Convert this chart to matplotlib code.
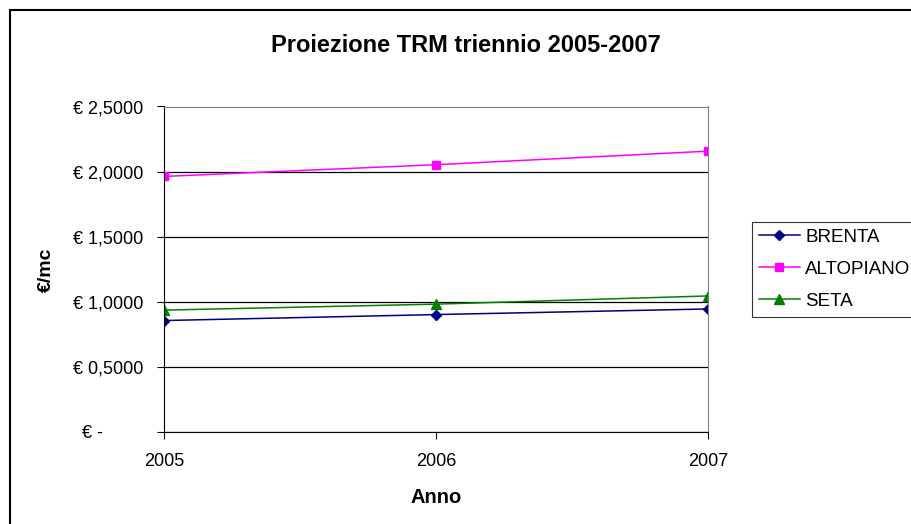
import matplotlib
matplotlib.use("Agg")
import matplotlib.pyplot as plt
from matplotlib.patches import Rectangle
from matplotlib.ticker import FuncFormatter

plt.rcParams['font.family'] = ['Liberation Sans', 'DejaVu Sans']

anni = ['2005', '2006', '2007']
brenta = [0.856, 0.902, 0.945]
altopiano = [1.963, 2.053, 2.157]
seta = [0.936, 0.982, 1.045]

W, H = 912, 524
fig = plt.figure(figsize=(W / 100, H / 100), dpi=100)
fig.patches.append(Rectangle((10 / W, -0.1), 1.2, 1 - 10 / H + 0.1, transform=fig.transFigure,
                             fill=False, edgecolor='black', linewidth=1.5))

ax = fig.add_axes([164 / W, 1 - 432 / H, (708 - 164) / W, (432 - 106.5) / H])

x = range(len(anni))
ax.plot(x, brenta, color='#000080', marker='D', markersize=5.5, linewidth=1.1, label='BRENTA')
ax.plot(x, altopiano, color='#FF00FF', marker='s', markersize=6, linewidth=1.1, label='ALTOPIANO')
ax.plot(x, seta, color='#008000', marker='^', markersize=7, linewidth=1.1, label='SETA')

ax.set_xlim(0, 2)
ax.set_ylim(0, 2.5)
ax.set_xticks(list(x))
ax.set_xticklabels(anni)
ax.set_yticks([0, 0.5, 1.0, 1.5, 2.0, 2.5])


def euro(v, pos):
    if v == 0:
        return '€ -        '
    return '€ ' + f'{v:.4f}'.replace('.', ',')


ax.yaxis.set_major_formatter(FuncFormatter(euro))
ax.yaxis.grid(True, color='black', linewidth=0.9)
ax.set_axisbelow(True)
for s in ['top', 'right']:
    ax.spines[s].set_color('#808080')
for s in ['left', 'bottom']:
    ax.spines[s].set_color('black')
ax.tick_params(axis='both', labelsize=13, length=5, color='black')
ax.tick_params(axis='y', pad=10)
ax.tick_params(axis='x', pad=10)

ax.set_ylabel('€/mc', fontsize=14, fontweight='bold', labelpad=13)
ax.set_xlabel('Anno', fontsize=14.5, fontweight='bold', labelpad=13)
fig.text(466 / W, 1 - 51.5 / H, 'Proiezione TRM triennio 2005-2007', fontsize=17, fontweight='bold',
         ha='center', va='baseline')

leg = fig.legend(loc='upper left', bbox_to_anchor=(752 / W, 1 - 222 / H), fontsize=13.5,
                 frameon=True, fancybox=False, edgecolor='black', handlelength=2.2,
                 handletextpad=0.3, borderaxespad=0, labelspacing=0.8, borderpad=0.35)
leg.get_frame().set_linewidth(0.8)

fig.savefig('out.png', dpi=100)
